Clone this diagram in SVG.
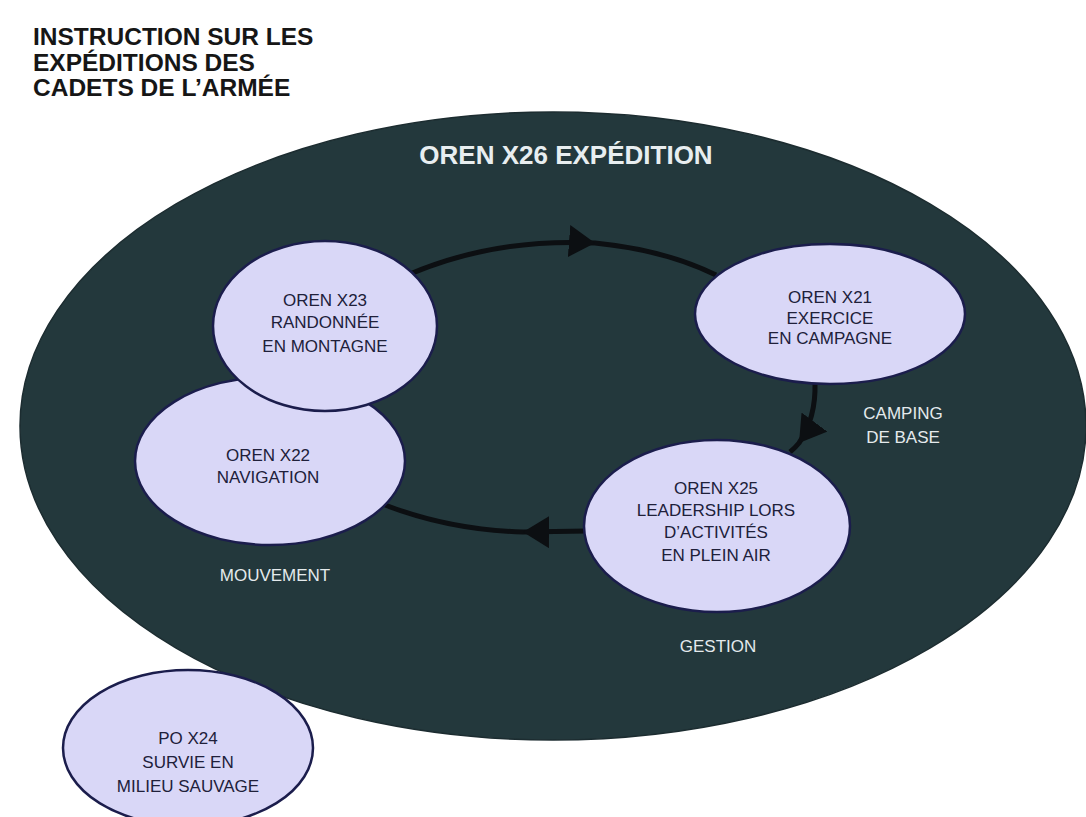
<svg xmlns="http://www.w3.org/2000/svg" width="1086" height="817" viewBox="0 0 1086 817">
<style>
.title{font-family:"Liberation Sans",Arial,sans-serif;font-weight:bold;font-size:24.5px;fill:#161616}
.big{fill:#23383c;stroke:#1c2c30;stroke-width:1.5}
.node{fill:#d9d7f7;stroke:#1b1d4c;stroke-width:2.5}
.nt{font-family:"Liberation Sans",Arial,sans-serif;font-size:17px;fill:#20203a;text-anchor:middle}
.wl{font-family:"Liberation Sans",Arial,sans-serif;font-size:17px;fill:#e4eaec;text-anchor:middle}
.hd{font-family:"Liberation Sans",Arial,sans-serif;font-size:26px;font-weight:bold;fill:#e8eef0;text-anchor:middle}
.conn{fill:none;stroke:#0c0f12;stroke-width:5;marker-mid:url(#ah)}
</style>
<defs>
<marker id="ah" markerUnits="userSpaceOnUse" markerWidth="28" markerHeight="32" viewBox="0 0 28 32" refX="26" refY="16" orient="auto">
<path d="M0,0 L26,16 L0,32 z" fill="#0c0f12"/>
</marker>
</defs>
<rect width="1086" height="817" fill="#ffffff"/>
<g id="title">
<text class="title" x="33" y="45">INSTRUCTION SUR LES</text>
<text class="title" x="33" y="71">EXPÉDITIONS DES</text>
<text class="title" x="33" y="96">CADETS DE L’ARMÉE</text>
</g>
<g id="x26">
<ellipse class="big" cx="553" cy="426" rx="533" ry="314"/>
<text class="hd" x="566" y="164">OREN X26 EXPÉDITION</text>
</g>
<g id="connectors">
<path class="conn" d="M410,274 Q495,238 595,243 Q665,250 716,275"/>
<path class="conn" d="M815,383 Q816,418 799,443 Q795,448 790,452"/>
<path class="conn" d="M587,531 L523,532 Q450,530 385,505"/>
</g>
<g id="x22">
<ellipse class="node" cx="270" cy="461" rx="135" ry="84"/>
<text class="nt" x="268" y="461">OREN X22</text>
<text class="nt" x="268" y="483">NAVIGATION</text>
</g>
<g id="x23">
<ellipse class="node" cx="325" cy="326" rx="112" ry="85"/>
<text class="nt" x="325" y="306">OREN X23</text>
<text class="nt" x="325" y="328">RANDONNÉE</text>
<text class="nt" x="325" y="352">EN MONTAGNE</text>
</g>
<g id="x21">
<ellipse class="node" cx="830" cy="314" rx="135" ry="70"/>
<text class="nt" x="830" y="303">OREN X21</text>
<text class="nt" x="830" y="324">EXERCICE</text>
<text class="nt" x="830" y="344">EN CAMPAGNE</text>
</g>
<g id="x25">
<ellipse class="node" cx="717" cy="526" rx="133" ry="86"/>
<text class="nt" x="716" y="494">OREN X25</text>
<text class="nt" x="716" y="516">LEADERSHIP LORS</text>
<text class="nt" x="716" y="538">D’ACTIVITÉS</text>
<text class="nt" x="716" y="561">EN PLEIN AIR</text>
</g>
<g id="x24">
<ellipse class="node" cx="188" cy="748" rx="125" ry="78"/>
<text class="nt" x="188" y="744">PO X24</text>
<text class="nt" x="188" y="768">SURVIE EN</text>
<text class="nt" x="188" y="792">MILIEU SAUVAGE</text>
</g>
<g id="labels">
<text class="wl" x="903" y="419">CAMPING</text>
<text class="wl" x="903" y="443">DE BASE</text>
<text class="wl" x="275" y="581">MOUVEMENT</text>
<text class="wl" x="718" y="652">GESTION</text>
</g>
</svg>
